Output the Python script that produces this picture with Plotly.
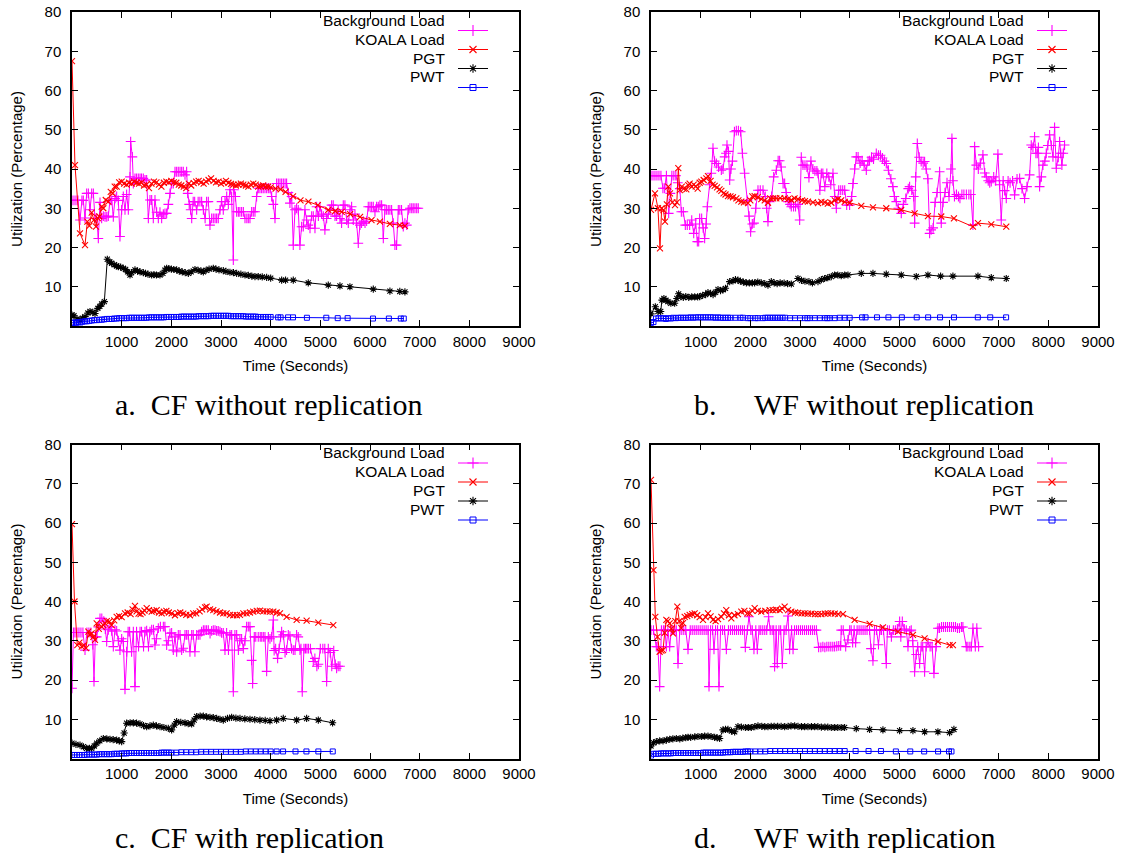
import plotly.graph_objects as go

W, H = 1122, 853

# ---------------- data: (time in seconds, utilization %) ----------------
a_bg = [(0,32),(40,32),(80,32),(120,32),(161,27),(200,32),(228,32),(262,27.5),(295,33.8),(330,33.8),(362,29.6),(396,33.8),(430,33.8),(463,27.4),(497,27.4),(530,22.3),(564,31.5),(597,27.4),(631,28),(665,27.8),(700,27.8),(731,28),(765,32),(800,32),(832,27.8),(866,32.5),(899,33.0),(933,32),(966,22.8),(1000,29.6),(1033,33),(1067,29.6),(1100,33.5),(1134,29.6),(1168,38),(1181,47.0),(1215,43.1),(1235,36.3),(1268,37.6),(1300,37.6),(1335,37.6),(1370,37.6),(1400,37.6),(1436,37.6),(1470,37.2),(1503,37.2),(1537,27.4),(1570,32.1),(1604,32.1),(1637,27.4),(1671,32.1),(1704,29.0),(1738,27.4),(1771,29.0),(1805,27.4),(1839,28.5),(1872,28.7),(1906,28.7),(1940,31.0),(1973,33.8),(2007,36.3),(2040,36.3),(2074,39.3),(2107,39.3),(2140,39.3),(2175,39.3),(2208,39.3),(2241,39.3),(2275,38.5),(2308,39.3),(2330,33.8),(2360,31.0),(2390,29.6),(2410,27.4),(2440,31.7),(2470,31.7),(2510,29.6),(2540,31.7),(2575,31.7),(2610,31.7),(2645,29.6),(2680,27.4),(2710,31.7),(2745,31.7),(2778,25.7),(2812,27.4),(2845,27.4),(2880,27.4),(2912,27.4),(2945,27.4),(2980,29.6),(3012,31.7),(3046,29.6),(3080,31.7),(3115,33.0),(3148,31.0),(3181,34.7),(3214,33.0),(3248,16.8),(3260,34.7),(3290,33.0),(3315,29.1),(3350,29.1),(3380,29.1),(3415,29.1),(3450,29.1),(3483,27.4),(3520,27.4),(3550,27.4),(3583,27.4),(3617,29.1),(3650,29.1),(3684,29.1),(3717,33.0),(3750,35.1),(3784,35.1),(3818,35.1),(3850,35.1),(3885,35.1),(3919,35.1),(3953,35.1),(3986,35.1),(4020,33.0),(4053,31.0),(4087,27.4),(4120,36.3),(4154,36.3),(4188,36.3),(4221,36.3),(4255,36.3),(4290,36.3),(4321,36.3),(4355,34.0),(4388,31.3),(4422,33.0),(4455,20.6),(4490,29.6),(4522,30.0),(4556,29.6),(4589,20.6),(4623,25.3),(4657,25.3),(4690,29.6),(4724,27.0),(4758,25.7),(4792,24.9),(4825,28.0),(4858,28.0),(4892,24.9),(4925,30.4),(4960,28.0),(4992,30.4),(5025,28.5),(5060,28.0),(5092,24.5),(5127,27.4),(5160,28.5),(5193,29.6),(5227,30.8),(5260,30.8),(5295,28.0),(5328,28.0),(5360,29.6),(5395,27.4),(5428,26.2),(5462,30.8),(5495,30.8),(5530,27.0),(5563,26.2),(5597,29.6),(5630,30.4),(5664,27.0),(5697,28.5),(5730,26.2),(5764,21.1),(5798,25.7),(5830,26.2),(5865,26.7),(5900,26.2),(5932,26.7),(5965,30.4),(6000,30.4),(6033,30.4),(6066,30.4),(6100,29.1),(6133,30.4),(6167,30.4),(6200,30.8),(6234,30.8),(6268,22.3),(6300,29.6),(6335,29.6),(6368,29.6),(6400,29.6),(6435,29.6),(6468,26.2),(6502,20.6),(6535,20.6),(6570,29.6),(6600,29.6),(6635,29.6),(6670,25.3),(6703,26.2),(6740,25.7),(6770,29.6),(6804,30.0),(6840,30.0),(6870,30.0),(6905,30.0),(6940,30.0),(6972,30.0)]
a_koala = [(0,67.5),(60,41.0),(161,23.6),(262,20.6),(309,26.6),(350,25.5),(396,28.9),(440,27.0),(483,25.3),(520,27.5),(550,27.9),(597,30.4),(631,30.0),(680,32.1),(731,31.7),(780,34.2),(819,33.8),(860,35.5),(899,35.5),(950,36.6),(1000,36.8),(1050,36.3),(1100,36.0),(1150,36.5),(1200,36.3),(1250,36.8),(1300,36.5),(1350,36.3),(1400,36.6),(1450,35.8),(1500,36.0),(1550,35.1),(1600,36.3),(1650,36.8),(1700,36.6),(1750,36.0),(1800,35.5),(1850,36.5),(1900,36.8),(1950,36.6),(2000,37.0),(2050,36.6),(2100,36.5),(2150,36.0),(2200,35.8),(2250,35.5),(2300,35.1),(2350,36.3),(2400,35.8),(2450,36.4),(2500,36.8),(2550,37.0),(2600,36.6),(2650,36.3),(2700,36.8),(2750,37.2),(2800,37.6),(2850,37.0),(2900,36.6),(2950,36.8),(3000,36.3),(3050,36.6),(3100,37.0),(3150,36.5),(3200,36.2),(3250,36.0),(3300,35.8),(3350,36.0),(3400,36.3),(3450,36.0),(3500,35.8),(3550,35.5),(3600,36.0),(3650,36.3),(3700,36.0),(3750,35.5),(3800,35.6),(3850,35.8),(3900,35.5),(3950,35.5),(4000,35.3),(4100,35.0),(4200,34.8),(4300,34.2),(4450,33.0),(4600,32.0),(4760,31.7),(4950,30.8),(5160,29.6),(5300,29.3),(5430,29.1),(5600,28.5),(5800,27.8),(6030,27.0),(6200,26.6),(6400,26.0),(6600,25.7),(6703,25.5)]
a_pgt = [(0,2.8),(40,2.6),(100,1.8),(161,1.5),(210,2.0),(262,2.4),(320,3.3),(362,3.7),(420,3.5),(463,3.2),(520,4.5),(560,5.0),(597,5.6),(651,6.2),(711,17.0),(760,16.3),(798,16.0),(850,15.6),(900,15.3),(933,15.1),(980,15.0),(1033,14.7),(1080,14.4),(1120,13.8),(1168,13.0),(1200,13.6),(1268,14.3),(1320,14.0),(1370,13.8),(1436,13.6),(1480,13.4),(1530,13.2),(1604,13.0),(1650,13.1),(1700,13.0),(1771,13.0),(1830,13.4),(1870,14.2),(1906,14.7),(1950,14.6),(2000,14.5),(2050,14.4),(2107,14.3),(2160,14.0),(2220,13.8),(2280,13.6),(2342,13.4),(2400,13.8),(2476,14.4),(2540,14.2),(2600,14.0),(2644,13.8),(2700,14.2),(2760,14.5),(2845,14.7),(2900,14.5),(2960,14.3),(3046,14.1),(3100,13.9),(3180,13.7),(3250,13.6),(3315,13.4),(3400,13.2),(3483,13.0),(3550,12.9),(3620,12.7),(3684,12.6),(3750,12.6),(3830,12.5),(3919,12.4),(4000,12.2),(4221,11.7),(4300,11.7),(4455,11.7),(4757,11.0),(5160,10.4),(5395,10.2),(5596,10.0),(6066,9.4),(6401,8.9),(6600,8.8),(6703,8.7)]
a_pwt = [(0,0.8),(40,0.9),(80,0.8),(130,1.0),(170,0.9),(210,1.1),(260,1.2),(300,1.2),(350,1.3),(400,1.4),(450,1.5),(500,1.5),(550,1.6),(600,1.6),(650,1.7),(700,1.8),(750,1.8),(800,1.8),(850,1.9),(900,1.9),(950,2.0),(1000,2.0),(1050,2.0),(1100,2.0),(1150,2.1),(1200,2.1),(1250,2.1),(1300,2.1),(1350,2.1),(1400,2.1),(1450,2.1),(1500,2.1),(1550,2.2),(1600,2.2),(1650,2.2),(1700,2.2),(1750,2.2),(1800,2.2),(1850,2.2),(1900,2.3),(1950,2.3),(2000,2.3),(2050,2.3),(2100,2.3),(2150,2.3),(2200,2.4),(2250,2.4),(2300,2.4),(2350,2.4),(2400,2.4),(2450,2.4),(2500,2.4),(2550,2.5),(2600,2.5),(2650,2.5),(2700,2.5),(2750,2.5),(2800,2.6),(2850,2.6),(2900,2.6),(2950,2.6),(3000,2.6),(3050,2.6),(3100,2.6),(3150,2.6),(3200,2.5),(3250,2.5),(3300,2.5),(3350,2.5),(3400,2.5),(3450,2.5),(3500,2.4),(3550,2.4),(3600,2.4),(3650,2.4),(3700,2.4),(3750,2.3),(3800,2.3),(3850,2.3),(3900,2.3),(3950,2.3),(4000,2.3),(4150,2.2),(4200,2.2),(4350,2.2),(4450,2.2),(4730,2.1),(5120,2.1),(5350,2.0),(5550,2.0),(6060,1.9),(6380,1.9),(6620,1.9),(6680,1.9)]

b_bg = [(0,38.3),(40,38.3),(80,38.3),(120,38.3),(160,38.3),(200,38.3),(240,35.1),(275,35.1),(310,38.3),(356,28.7),(390,33.8),(420,38.3),(460,38.3),(500,38.3),(540,36.5),(580,35.0),(611,29.1),(650,29.1),(691,25.7),(730,25.7),(778,25.7),(820,27.0),(860,23.6),(900,26.0),(933,21.5),(960,21.5),(980,27.4),(1020,27.4),(1050,25.0),(1080,22.3),(1110,26.0),(1134,30.4),(1180,36.0),(1214,38.9),(1248,45.3),(1280,42.0),(1315,41.4),(1360,40.5),(1416,39.7),(1450,40.0),(1483,43.1),(1510,44.0),(1530,46.1),(1560,44.5),(1584,37.2),(1610,40.0),(1640,42.0),(1680,49.5),(1718,49.8),(1760,49.8),(1805,49.5),(1840,44.0),(1885,38.9),(1940,32.0),(1975,28.0),(2006,24.0),(2040,26.0),(2073,26.2),(2110,30.0),(2154,34.6),(2200,34.6),(2255,34.6),(2300,33.0),(2330,30.0),(2355,26.6),(2390,31.7),(2430,33.0),(2470,38.0),(2523,39.7),(2560,42.1),(2590,42.1),(2620,40.5),(2660,36.3),(2691,36.3),(2720,34.0),(2758,31.7),(2800,31.0),(2825,30.4),(2870,30.4),(2910,30.4),(2960,31.0),(2993,27.0),(3026,43.0),(3060,41.0),(3100,41.0),(3140,40.5),(3180,37.8),(3220,42.0),(3260,40.0),(3300,39.5),(3340,39.5),(3362,38.9),(3400,34.6),(3430,38.9),(3460,38.9),(3500,35.5),(3540,38.9),(3580,38.0),(3620,36.0),(3664,38.9),(3700,33.0),(3731,30.0),(3780,34.6),(3820,34.6),(3860,34.6),(3900,34.6),(3940,30.8),(3999,30.8),(4040,33.0),(4066,36.3),(4100,40.0),(4133,43.1),(4170,43.1),(4210,41.5),(4250,42.1),(4290,41.0),(4335,39.7),(4370,42.0),(4400,42.1),(4440,43.0),(4480,42.5),(4536,44.0),(4580,43.5),(4620,43.5),(4660,42.8),(4700,42.0),(4737,41.4),(4780,39.7),(4830,37.5),(4871,35.5),(4900,33.0),(4939,31.7),(4980,30.0),(5039,28.7),(5080,31.0),(5130,32.5),(5180,35.0),(5207,35.5),(5250,34.6),(5290,33.0),(5308,26.2),(5330,38.0),(5362,46.5),(5400,43.0),(5440,41.9),(5480,41.5),(5509,41.9),(5540,40.0),(5575,37.5),(5610,23.6),(5640,24.5),(5680,25.0),(5720,31.5),(5760,34.0),(5811,39.3),(5844,26.2),(5880,31.5),(5920,34.0),(5960,36.5),(6000,33.0),(6040,40.0),(6059,47.8),(6080,37.0),(6110,33.0),(6150,33.5),(6190,33.0),(6220,32.5),(6260,33.5),(6300,33.5),(6350,33.5),(6400,33.5),(6440,33.5),(6482,25.7),(6516,45.7),(6550,41.0),(6590,40.0),(6630,41.5),(6683,43.6),(6720,39.0),(6751,38.0),(6790,37.0),(6820,36.5),(6851,36.8),(6900,38.0),(6940,37.0),(6985,43.8),(7020,36.0),(7052,27.0),(7090,37.0),(7120,34.5),(7153,32.5),(7190,37.0),(7230,36.5),(7280,37.0),(7321,33.4),(7370,37.5),(7422,37.6),(7470,35.0),(7522,32.5),(7570,35.5),(7623,38.5),(7656,46.1),(7690,45.5),(7723,48.2),(7750,44.0),(7777,44.0),(7800,45.5),(7824,35.5),(7860,38.0),(7891,41.0),(7930,42.0),(7958,44.0),(7990,46.0),(8026,48.7),(8060,46.0),(8093,43.1),(8126,50.6),(8160,40.2),(8200,43.0),(8227,47.0),(8250,44.0),(8273,41.0),(8300,44.0),(8327,46.1)]
b_koala = [(0,29.6),(80,33.8),(140,30.0),(181,19.8),(215,30.0),(250,29.5),(282,26.6),(320,31.0),(349,35.5),(382,33.8),(430,31.5),(483,30.8),(520,31.5),(550,40.2),(580,34.6),(620,35.5),(660,35.0),(711,34.8),(750,35.9),(778,36.3),(820,35.5),(860,36.0),(899,35.6),(940,35.0),(980,36.5),(1013,36.8),(1060,37.2),(1114,37.6),(1147,38.2),(1200,37.0),(1240,36.0),(1282,35.7),(1330,35.3),(1380,34.8),(1416,34.4),(1460,33.8),(1500,33.5),(1550,33.1),(1600,33.0),(1650,32.8),(1718,32.5),(1760,32.0),(1818,31.7),(1870,31.5),(1953,31.3),(2000,32.0),(2040,33.0),(2087,33.1),(2150,32.8),(2221,32.3),(2290,32.0),(2355,31.4),(2400,32.5),(2460,32.5),(2523,32.5),(2600,32.6),(2691,32.5),(2760,32.3),(2825,32.1),(2890,32.5),(2960,32.3),(3040,32.0),(3100,31.8),(3160,31.7),(3260,31.5),(3362,31.3),(3430,31.6),(3500,31.5),(3560,31.2),(3630,31.4),(3700,32.0),(3764,32.3),(3830,32.0),(3900,31.6),(3999,31.4),(4234,30.6),(4469,30.2),(4737,30.0),(5039,29.6),(5308,28.7),(5576,28.0),(5844,27.9),(6099,27.4),(6482,25.3),(6583,26.2),(6851,25.9),(7153,25.3)]
b_pgt = [(0,3.1),(87,4.9),(140,3.7),(195,3.7),(221,6.6),(260,7.0),(300,6.6),(340,6.2),(400,5.8),(476,5.8),(520,7.0),(557,8.2),(600,7.5),(650,7.3),(700,7.5),(760,7.3),(820,7.4),(880,7.4),(940,7.4),(980,7.5),(1040,7.8),(1100,8.0),(1147,8.5),(1200,8.3),(1250,8.0),(1300,8.6),(1349,9.3),(1400,9.0),(1450,9.2),(1500,9.6),(1584,11.3),(1650,11.5),(1700,11.8),(1751,11.7),(1800,11.4),(1860,11.2),(1920,11.0),(1980,11.0),(2040,11.0),(2087,11.0),(2150,11.2),(2220,11.0),(2290,10.8),(2355,10.4),(2422,11.3),(2480,11.0),(2540,10.8),(2600,11.0),(2680,10.9),(2750,10.8),(2825,10.7),(2959,12.1),(3030,11.6),(3100,11.4),(3180,11.3),(3250,11.0),(3362,11.3),(3430,11.8),(3496,12.1),(3560,12.3),(3630,12.6),(3697,13.0),(3760,13.0),(3830,12.8),(3900,13.0),(3966,13.0),(4234,13.4),(4469,13.4),(4737,13.2),(5039,13.0),(5341,12.6),(5576,13.0),(5831,12.7),(6079,12.7),(6583,12.7),(6851,12.3),(7153,12.1)]
b_pwt = [(0,0.8),(50,1.0),(100,1.9),(150,2.0),(200,1.9),(250,2.0),(300,1.8),(350,2.0),(400,1.9),(450,2.1),(500,2.0),(550,2.1),(600,2.1),(650,2.1),(700,2.1),(750,2.1),(800,2.2),(850,2.1),(900,2.2),(950,2.2),(1000,2.2),(1050,2.2),(1100,2.2),(1150,2.2),(1200,2.2),(1250,2.2),(1300,2.1),(1350,2.2),(1400,2.1),(1450,2.1),(1500,2.1),(1550,2.1),(1600,2.1),(1700,2.1),(1800,2.1),(1850,2.1),(1950,2.0),(2000,2.0),(2100,2.0),(2150,2.0),(2250,2.0),(2300,2.1),(2350,2.1),(2400,2.1),(2450,2.1),(2500,2.1),(2550,2.1),(2600,2.1),(2650,2.1),(2700,2.1),(2800,2.0),(2900,2.0),(3000,2.0),(3100,2.0),(3150,2.0),(3200,2.0),(3300,2.0),(3400,2.0),(3500,2.0),(3550,2.0),(3600,2.0),(3700,2.0),(3800,2.1),(3900,2.1),(4000,2.1),(4250,2.2),(4320,2.2),(4550,2.2),(4780,2.2),(5050,2.2),(5350,2.2),(5580,2.2),(5820,2.2),(6100,2.2),(6580,2.2),(6830,2.2),(7150,2.2)]

c_bg = [(0,17.9),(30,32.1),(60,32.1),(100,32.1),(140,32.1),(180,32.1),(220,32.1),(262,27.6),(300,32.1),(340,32.1),(380,32.1),(420,29.0),(443,19.6),(470,31.0),(497,31.0),(530,33.5),(564,35.7),(600,35.7),(640,35.0),(670,33.0),(698,29.8),(730,32.8),(765,33.5),(800,32.5),(832,28.5),(866,32.8),(899,32.5),(933,30.0),(966,27.6),(1000,30.5),(1033,29.8),(1067,17.6),(1100,27.2),(1130,32.3),(1160,32.3),(1200,27.2),(1235,32.3),(1268,18.3),(1300,32.3),(1340,28.5),(1370,32.3),(1400,32.3),(1440,28.5),(1470,32.3),(1503,32.6),(1540,28.5),(1570,32.3),(1604,32.8),(1640,32.8),(1671,28.9),(1700,30.5),(1738,33.2),(1780,33.6),(1839,33.6),(1870,33.6),(1906,28.9),(1940,30.0),(1973,31.9),(2006,32.0),(2040,27.6),(2073,31.0),(2107,27.2),(2140,31.5),(2175,31.5),(2208,27.6),(2241,28.1),(2275,31.5),(2308,31.5),(2340,31.5),(2375,27.2),(2410,31.5),(2440,31.5),(2475,27.2),(2510,31.5),(2543,31.5),(2577,31.5),(2610,32.3),(2645,32.7),(2677,32.7),(2710,32.7),(2745,32.7),(2780,31.8),(2812,32.5),(2845,32.7),(2880,32.7),(2912,32.5),(2945,32.5),(2980,32.3),(3012,32.0),(3046,32.0),(3080,27.6),(3113,32.0),(3150,27.6),(3180,31.5),(3215,31.5),(3248,17.0),(3280,31.5),(3315,31.5),(3350,27.6),(3380,30.0),(3415,30.5),(3450,28.0),(3483,30.0),(3516,33.6),(3550,33.6),(3583,33.6),(3617,25.0),(3637,19.1),(3670,31.0),(3700,31.0),(3750,31.0),(3790,31.0),(3820,31.0),(3852,31.0),(3885,31.0),(3919,22.2),(3953,31.0),(3986,30.5),(4020,31.0),(4053,35.3),(4070,27.5),(4100,28.0),(4140,25.5),(4170,28.0),(4200,31.0),(4221,32.3),(4255,31.5),(4290,27.0),(4320,27.6),(4355,31.5),(4388,31.2),(4420,28.0),(4455,27.6),(4490,27.6),(4522,31.5),(4555,31.0),(4590,27.6),(4610,28.0),(4636,17.0),(4670,28.0),(4700,28.0),(4730,28.0),(4760,28.0),(4800,28.0),(4858,24.7),(4890,25.5),(4930,23.5),(4960,24.0),(5000,28.0),(5050,28.0),(5090,28.0),(5127,19.6),(5160,28.0),(5200,27.0),(5230,23.5),(5270,27.5),(5300,24.0),(5328,23.0),(5360,23.5),(5395,23.5)]
c_koala = [(0,59.7),(50,40.0),(107,28.9),(150,29.5),(195,28.5),(240,28.8),(282,28.1),(329,32.3),(360,31.5),(396,31.9),(430,31.0),(463,30.2),(497,34.4),(540,33.0),(597,33.6),(630,34.0),(664,34.4),(700,35.0),(751,34.9),(798,34.0),(850,35.2),(899,36.1),(950,36.3),(1000,36.0),(1067,37.0),(1120,37.2),(1180,36.8),(1220,38.0),(1268,38.9),(1300,37.5),(1340,36.9),(1380,36.8),(1420,37.2),(1460,37.7),(1503,38.3),(1550,37.8),(1604,37.4),(1650,37.6),(1704,37.8),(1750,37.2),(1805,37.0),(1850,37.4),(1900,37.6),(1950,37.2),(2006,37.0),(2073,36.5),(2130,37.0),(2180,37.2),(2241,36.9),(2300,36.6),(2375,36.5),(2440,37.0),(2500,37.0),(2570,37.5),(2620,38.0),(2680,38.5),(2711,38.7),(2780,38.0),(2845,37.8),(2910,37.5),(2980,37.2),(3046,37.0),(3113,37.0),(3180,36.6),(3248,36.5),(3320,36.5),(3382,36.6),(3450,37.0),(3516,37.0),(3583,37.2),(3650,37.4),(3720,37.6),(3784,37.7),(3850,37.5),(3919,37.5),(3986,37.4),(4053,37.4),(4120,37.2),(4187,37.0),(4321,36.1),(4523,35.3),(4724,35.1),(4959,34.6),(5261,34.0)]
c_pgt = [(0,3.9),(80,3.6),(161,3.4),(230,3.0),(295,2.6),(350,2.6),(396,2.6),(450,3.2),(497,3.9),(560,4.5),(631,5.1),(700,5.0),(765,4.9),(830,4.8),(899,4.7),(950,4.5),(1000,4.3),(1050,6.5),(1100,9.0),(1170,9.1),(1235,9.1),(1300,9.0),(1369,8.8),(1440,8.4),(1503,8.1),(1570,8.3),(1637,8.5),(1700,8.3),(1771,8.1),(1850,7.9),(1939,7.7),(2006,7.3),(2060,8.5),(2107,9.4),(2190,9.2),(2275,9.1),(2340,8.9),(2409,8.8),(2460,9.8),(2510,10.7),(2580,10.8),(2644,10.8),(2710,10.6),(2778,10.5),(2845,10.4),(2912,10.2),(2980,10.0),(3046,9.8),(3130,10.2),(3214,10.5),(3300,10.3),(3382,10.2),(3480,10.1),(3583,10.0),(3680,9.9),(3784,9.8),(3890,9.7),(3986,9.6),(4120,9.8),(4254,10.2),(4523,9.8),(4724,10.2),(4959,9.8),(5247,9.1)]
c_pwt = [(0,0.9),(50,0.9),(100,0.9),(150,0.9),(200,0.9),(250,0.9),(300,1.0),(350,1.0),(400,1.0),(450,1.0),(500,1.0),(550,1.1),(600,1.1),(650,1.1),(700,1.1),(750,1.1),(800,1.1),(850,1.2),(900,1.2),(950,1.2),(1000,1.3),(1050,1.3),(1100,1.3),(1150,1.4),(1200,1.4),(1250,1.4),(1300,1.4),(1350,1.4),(1400,1.4),(1450,1.4),(1500,1.4),(1550,1.4),(1600,1.4),(1650,1.4),(1700,1.4),(1750,1.4),(1800,1.5),(1850,1.5),(1900,1.5),(1950,1.5),(2000,1.5),(2100,1.5),(2200,1.6),(2300,1.6),(2400,1.6),(2500,1.6),(2600,1.7),(2700,1.7),(2800,1.7),(2900,1.7),(3000,1.7),(3100,1.7),(3200,1.7),(3300,1.7),(3400,1.7),(3500,1.8),(3600,1.8),(3700,1.8),(3800,1.8),(3900,1.8),(4000,1.8),(4120,1.8),(4250,1.8),(4500,1.8),(4720,1.8),(4960,1.8),(5250,1.8)]

d_bg = [(0,32.7),(50,32.7),(107,28.5),(140,28.5),(174,18.3),(210,32.7),(250,32.7),(280,32.7),(309,28.5),(340,32.7),(376,28.5),(410,32.7),(443,32.7),(480,32.7),(510,32.7),(544,24.2),(580,32.7),(620,32.7),(660,32.7),(700,32.7),(745,27.8),(790,32.7),(830,32.7),(870,32.7),(910,32.7),(950,32.7),(990,32.7),(1030,32.7),(1070,32.7),(1110,32.7),(1150,32.7),(1168,18.3),(1200,32.7),(1240,32.7),(1268,27.8),(1300,32.7),(1340,32.7),(1369,18.3),(1400,32.7),(1440,32.7),(1480,32.7),(1517,27.8),(1560,32.7),(1600,32.7),(1640,32.7),(1680,32.7),(1720,32.7),(1760,32.7),(1800,32.7),(1840,32.7),(1880,32.7),(1899,28.3),(1940,32.7),(1973,36.1),(2010,32.7),(2040,32.7),(2073,27.8),(2110,32.7),(2140,27.8),(2175,32.7),(2210,32.7),(2250,32.7),(2290,32.7),(2330,32.7),(2368,36.1),(2400,32.7),(2440,32.7),(2470,32.7),(2489,23.4),(2520,32.7),(2543,24.2),(2575,32.7),(2610,32.7),(2644,24.2),(2680,32.7),(2720,32.7),(2758,36.3),(2791,27.8),(2830,32.7),(2860,27.8),(2890,32.7),(2930,32.7),(2970,32.7),(3010,32.7),(3050,32.7),(3090,32.7),(3130,32.7),(3170,32.7),(3210,32.7),(3250,32.7),(3290,32.7),(3330,32.7),(3375,28.3),(3420,28.3),(3460,28.5),(3500,28.3),(3540,28.5),(3580,28.5),(3620,28.5),(3660,28.5),(3697,28.5),(3740,28.6),(3780,28.7),(3818,28.7),(3831,32.7),(3870,32.7),(3920,28.5),(3966,30.2),(4000,32.7),(4030,32.7),(4060,29.5),(4090,32.7),(4120,29.5),(4150,32.7),(4190,32.7),(4230,32.7),(4270,32.7),(4310,32.7),(4350,32.7),(4400,32.7),(4430,28.0),(4469,24.9),(4500,32.7),(4540,32.7),(4580,29.0),(4610,32.7),(4640,32.7),(4680,32.7),(4737,24.2),(4760,32.7),(4800,32.7),(4840,31.0),(4880,32.7),(4920,32.7),(4960,33.0),(5006,34.9),(5030,31.0),(5060,34.9),(5100,33.0),(5140,32.7),(5174,28.5),(5210,32.5),(5240,32.7),(5270,30.0),(5308,22.1),(5340,26.5),(5370,28.5),(5409,24.2),(5440,28.5),(5470,28.5),(5509,22.1),(5540,28.5),(5580,29.5),(5620,28.5),(5660,28.5),(5697,21.7),(5740,28.5),(5777,33.2),(5810,33.2),(5850,33.5),(5890,33.5),(5930,33.5),(5970,33.5),(6010,33.5),(6050,33.5),(6090,33.5),(6130,33.5),(6170,33.2),(6210,33.2),(6250,33.5),(6280,33.5),(6348,28.5),(6380,28.5),(6420,28.5),(6450,28.5),(6482,33.2),(6530,28.5),(6560,33.2),(6596,28.5)]
d_koala = [(0,71.0),(50,48.0),(87,36.1),(130,31.0),(174,27.2),(210,27.5),(242,27.6),(275,32.0),(309,35.3),(340,35.0),(376,34.4),(410,33.0),(443,31.9),(490,35.0),(530,38.7),(570,35.0),(611,33.2),(645,34.5),(678,36.1),(730,36.3),(778,36.6),(830,36.8),(879,37.0),(930,36.5),(980,36.0),(1047,35.3),(1100,36.0),(1147,37.0),(1200,36.2),(1248,35.3),(1300,35.0),(1350,35.5),(1416,36.1),(1470,37.0),(1516,37.8),(1570,36.5),(1617,35.7),(1680,36.5),(1750,36.8),(1818,37.4),(1880,37.6),(1940,37.0),(1986,37.0),(2040,37.6),(2087,38.3),(2150,37.6),(2220,37.4),(2300,37.6),(2389,37.8),(2450,37.8),(2520,37.9),(2590,37.8),(2640,38.2),(2691,38.7),(2760,37.8),(2825,37.4),(2900,37.2),(2960,37.1),(3030,37.0),(3093,37.0),(3160,36.9),(3230,36.9),(3300,36.8),(3362,36.8),(3430,36.8),(3500,36.9),(3560,37.0),(3630,37.0),(3700,36.9),(3770,36.8),(3865,36.8),(4100,35.3),(4402,34.3),(4670,33.4),(4972,32.3),(5274,31.5),(5509,30.6),(5777,29.8),(6012,28.9),(6079,28.9)]
d_pgt = [(0,3.2),(50,4.0),(107,4.3),(175,4.5),(242,4.5),(310,4.7),(376,4.9),(440,5.0),(510,5.1),(580,5.0),(640,5.2),(700,5.3),(745,5.4),(800,5.4),(880,5.5),(946,5.6),(1020,5.6),(1080,5.7),(1147,5.7),(1210,5.6),(1282,5.4),(1330,5.3),(1382,5.1),(1449,7.3),(1500,7.4),(1550,7.4),(1620,7.0),(1684,6.8),(1751,8.1),(1820,8.0),(1900,7.9),(1960,7.9),(2020,7.9),(2090,8.1),(2154,8.3),(2230,8.2),(2290,8.1),(2355,8.1),(2420,8.2),(2480,8.2),(2550,8.2),(2620,8.2),(2691,8.1),(2760,8.2),(2820,8.3),(2892,8.3),(2960,8.2),(3030,8.1),(3093,8.1),(3160,8.1),(3230,8.1),(3295,8.1),(3360,8.1),(3430,8.0),(3500,8.0),(3560,8.0),(3630,7.9),(3697,7.9),(3760,7.9),(3830,7.9),(3898,7.9),(4133,7.6),(4402,7.4),(4670,7.3),(5006,7.1),(5274,7.1),(5509,6.8),(5777,6.8),(6012,6.6),(6099,7.4)]
d_pwt = [(0,0.7),(50,1.2),(100,1.2),(150,1.2),(200,1.3),(250,1.3),(300,1.3),(350,1.3),(400,1.3),(450,1.4),(500,1.4),(550,1.4),(600,1.4),(650,1.4),(700,1.4),(750,1.4),(800,1.4),(850,1.4),(900,1.4),(950,1.4),(1000,1.4),(1050,1.5),(1100,1.5),(1150,1.5),(1200,1.5),(1250,1.5),(1300,1.5),(1350,1.5),(1400,1.5),(1450,1.5),(1500,1.6),(1550,1.6),(1600,1.6),(1650,1.7),(1700,1.7),(1750,1.7),(1800,1.7),(1850,1.7),(1900,1.8),(1950,1.8),(2000,1.8),(2100,1.8),(2200,1.8),(2300,1.8),(2400,1.9),(2500,1.9),(2600,1.9),(2700,1.9),(2800,1.9),(2900,1.9),(3000,1.9),(3100,1.9),(3200,1.9),(3300,1.9),(3400,1.9),(3500,1.9),(3600,1.9),(3700,1.9),(3800,1.9),(3900,1.9),(4120,1.9),(4380,1.9),(4630,1.9),(4930,1.8),(5220,1.8),(5500,1.8),(5780,1.8),(6000,1.8),(6050,1.8)]

series_names = ["Background Load", "KOALA Load", "PGT", "PWT"]
x_ticks = [1000, 2000, 3000, 4000, 5000, 6000, 7000, 8000, 9000]
y_ticks = [10, 20, 30, 40, 50, 60, 70, 80]
captions = ["a.\u00a0\u00a0CF without replication", "b.\u00a0\u00a0\u00a0\u00a0\u00a0WF without replication",
            "c.\u00a0\u00a0CF with replication", "d.\u00a0\u00a0\u00a0\u00a0\u00a0WF with replication"]
panel_data = [[a_bg, a_koala, a_pgt, a_pwt], [b_bg, b_koala, b_pgt, b_pwt],
              [c_bg, c_koala, c_pgt, c_pwt], [d_bg, d_koala, d_pgt, d_pwt]]

# ---------------- styling ----------------
styles = [
    dict(color="#ff00ff", symbol="cross-thin", size=7, mlw=1.1),
    dict(color="#ff0000", symbol="x-thin", size=6, mlw=1.1),
    dict(color="#000000", symbol="asterisk", size=6, mlw=1.1),
    dict(color="#0000ff", symbol="square-open", size=5, mlw=1.0),
]
SANS = "Liberation Sans, Arial, sans-serif"
SERIF = "Liberation Serif, Times New Roman, serif"
PW, PH = 447, 314
origins = [(72, 12), (651, 12), (72, 444.5), (651, 444.5)]

fig = go.Figure()
annotations = []
for i, (data, (left, top), cap) in enumerate(zip(panel_data, origins, captions), start=1):
    sfx = "" if i == 1 else str(i)
    leg = "legend" + sfx
    for name, series, st in zip(series_names, data, styles):
        xs = [p[0] for p in series]
        ys = [p[1] for p in series]
        mk = dict(symbol=st["symbol"], size=st["size"], color=st["color"],
                  line=dict(color=st["color"], width=st["mlw"]))
        fig.add_trace(go.Scatter(x=xs, y=ys, mode="lines+markers", name=name,
                                 line=dict(color=st["color"], width=1), marker=mk,
                                 xaxis="x" + sfx, yaxis="y" + sfx, showlegend=False))
    # legend key samples (gnuplot style: label text sits to the left of the sample)
    for name, st in zip(series_names, styles):
        mk = dict(symbol=st["symbol"], size=st["size"] + 1, color=st["color"],
                  line=dict(color=st["color"], width=st["mlw"]))
        fig.add_trace(go.Scatter(x=[None], y=[None], mode="lines+markers", name="",
                                 legendgroup=name + sfx,
                                 line=dict(color=st["color"], width=1), marker=mk,
                                 xaxis="x" + sfx, yaxis="y" + sfx, showlegend=True,
                                 legend=leg, hoverinfo="skip"))
    xdom = [left / W, (left + PW) / W]
    ydom = [1 - (top + PH) / H, 1 - top / H]
    axis_common = dict(showline=True, linecolor="black", linewidth=1.5, mirror="ticks",
                       ticks="inside", ticklen=6, tickwidth=1, tickcolor="black",
                       showgrid=False, zeroline=False, automargin=False,
                       tickfont=dict(family=SANS, size=15, color="black"))
    fig.update_layout(**{
        "xaxis" + sfx: dict(domain=xdom, anchor="y" + sfx, range=[0, 9000], tickvals=x_ticks,
                            ticklabelstandoff=1,
                            title=dict(text="Time (Seconds)", font=dict(family=SANS, size=15, color="black"),
                                       standoff=12), **axis_common),
        "yaxis" + sfx: dict(domain=ydom, anchor="x" + sfx, range=[0, 80], tickvals=y_ticks,
                            ticklabelstandoff=6,
                            title=dict(text="Utilization (Percentage)", font=dict(family=SANS, size=15, color="black"),
                                       standoff=18), **axis_common),
        leg: dict(x=(left + 381) / W, y=1 - (top + 4) / H, xanchor="left", yanchor="top",
                  bgcolor="rgba(0,0,0,0)", borderwidth=0, font=dict(size=10),
                  tracegroupgap=0, itemclick=False, itemdoubleclick=False),
    })
    rows = [8, 27, 46, 65]
    for name, r in zip(series_names, rows):
        annotations.append(dict(text=name, x=(left + 375) / W, y=1 - (top + r) / H, xref="paper", yref="paper",
                                xanchor="right", yanchor="middle", showarrow=False,
                                font=dict(family=SANS, size=15.5, color="black")))
    annotations.append(dict(text=cap, x=(left + 41) / W, y=1 - (top + 393) / H, xref="paper", yref="paper",
                            xanchor="left", yanchor="middle", showarrow=False,
                            font=dict(family=SERIF, size=30, color="black")))

fig.update_layout(width=W, height=H, margin=dict(l=0, r=0, t=0, b=0, pad=0), autosize=False,
                  paper_bgcolor="white", plot_bgcolor="white", annotations=annotations)
fig.write_html("out.html", config={"displayModeBar": False},
               post_script="document.body.style.margin='0';document.body.style.overflow='hidden';")
